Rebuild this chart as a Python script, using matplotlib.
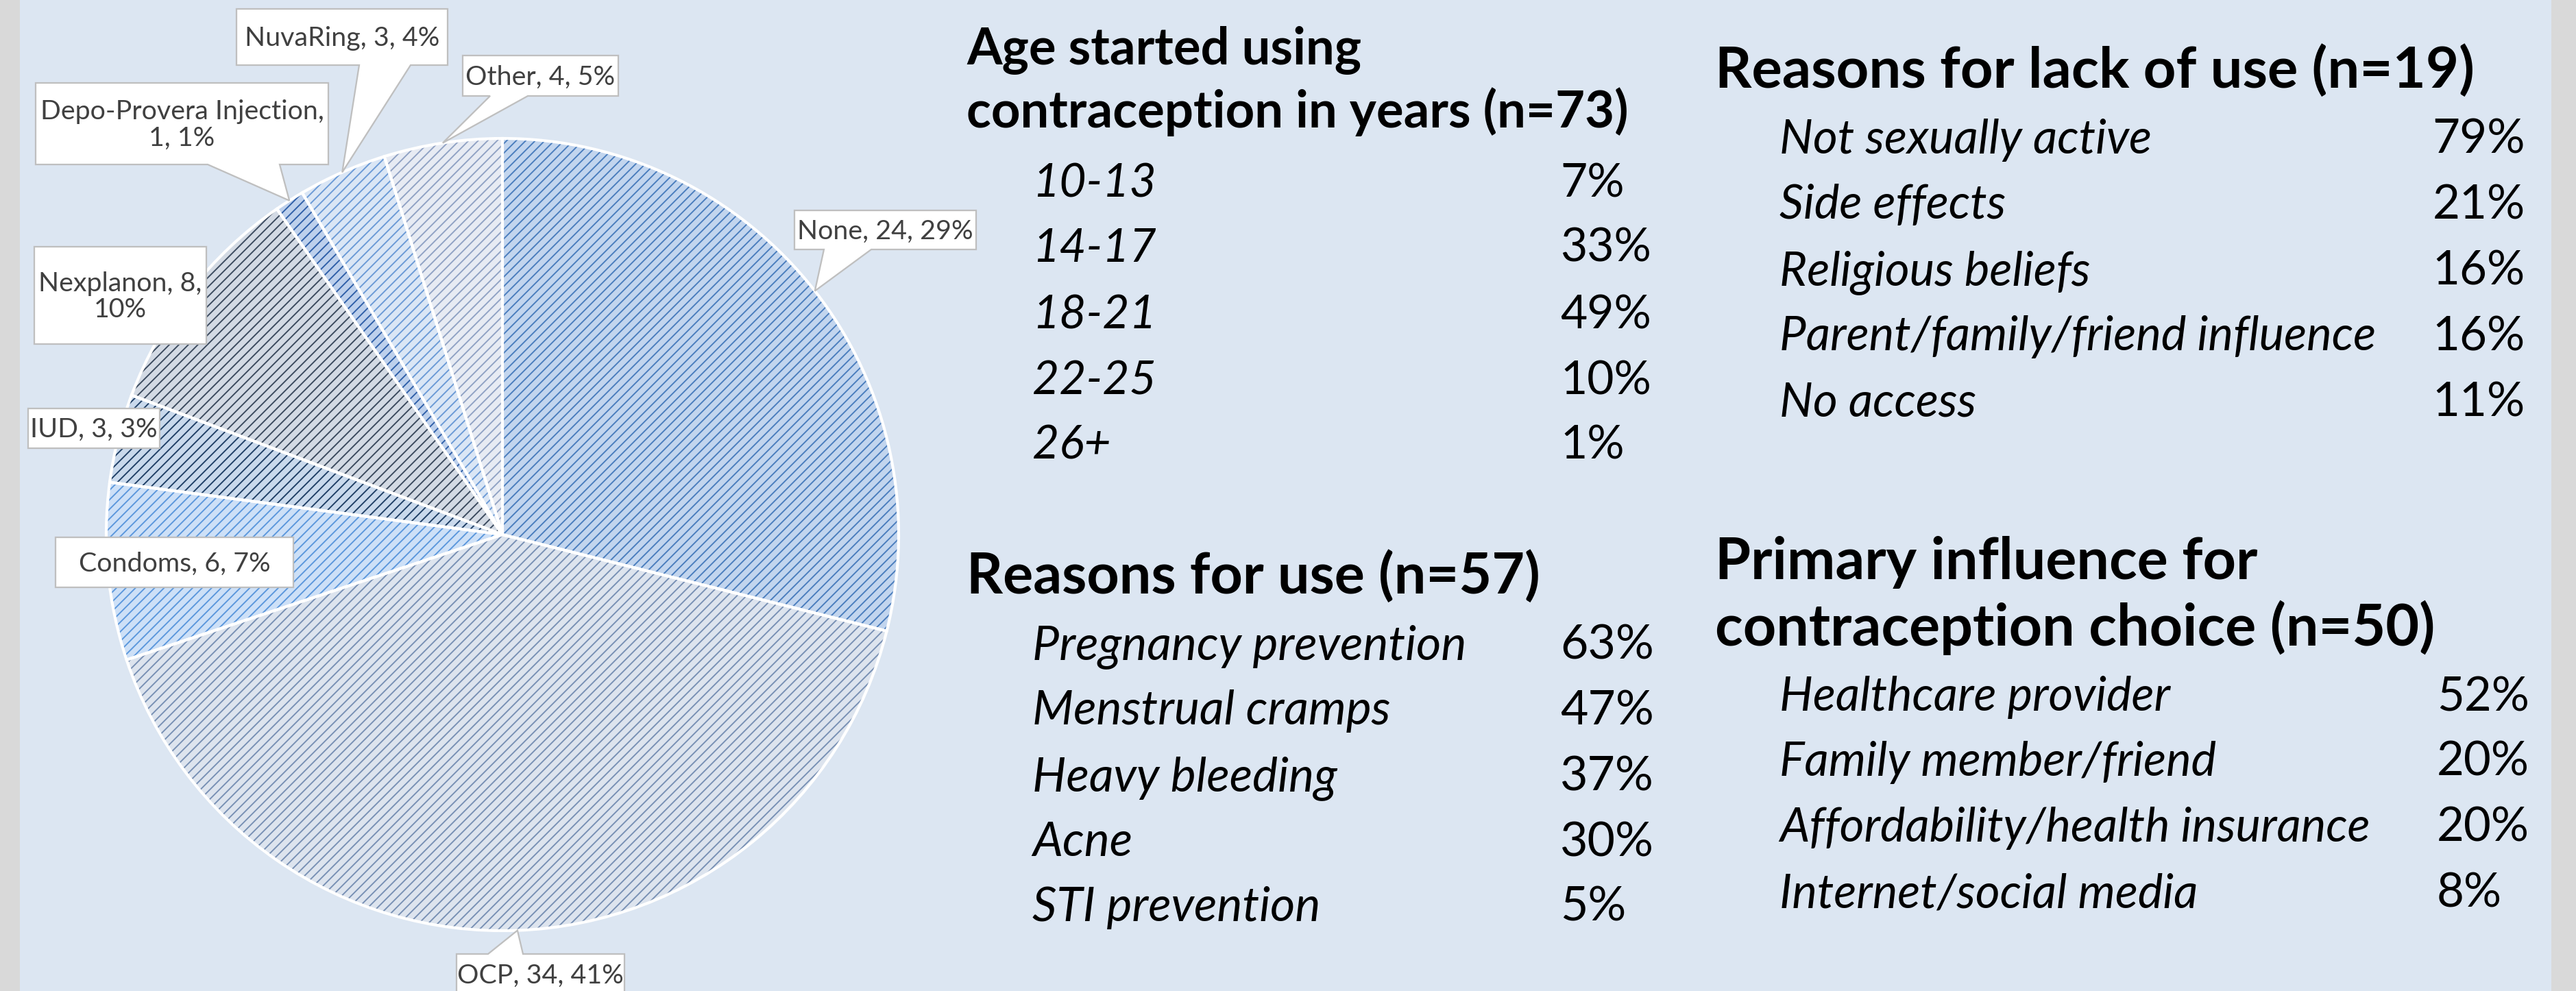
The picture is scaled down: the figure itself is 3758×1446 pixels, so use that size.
import matplotlib
matplotlib.use("Agg")
import matplotlib.pyplot as plt
from matplotlib.patches import Rectangle, Polygon
import numpy as np

# ---------------- data ----------------
methods = ["None", "OCP", "Condoms", "IUD", "Nexplanon",
           "Depo-Provera Injection", "NuvaRing", "Other"]
method_counts = [24, 34, 6, 3, 8, 1, 3, 4]
method_pct = ["29%", "41%", "7%", "3%", "10%", "1%", "4%", "5%"]

age_title = ["Age started using", "contraception in years (n=73)"]
age_groups = ["10-13", "14-17", "18-21", "22-25", "26+"]
age_pct = ["7%", "33%", "49%", "10%", "1%"]

use_title = ["Reasons for use (n=57)"]
use_reasons = ["Pregnancy prevention", "Menstrual cramps", "Heavy bleeding",
               "Acne", "STI prevention"]
use_pct = ["63%", "47%", "37%", "30%", "5%"]

nonuse_title = ["Reasons for lack of use (n=19)"]
nonuse_reasons = ["Not sexually active", "Side effects", "Religious beliefs",
                  "Parent/family/friend influence", "No access"]
nonuse_pct = ["79%", "21%", "16%", "16%", "11%"]

influence_title = ["Primary influence for", "contraception choice (n=50)"]
influence_sources = ["Healthcare provider", "Family member/friend",
                     "Affordability/health insurance", "Internet/social media"]
influence_pct = ["52%", "20%", "20%", "8%"]

# ---------------- style ----------------
W, H = 3758, 1446
DPI = 125
BG = "#dce6f2"
FONT = "Lato"
base_colors = ["#c2d5ee", "#dde4ee", "#cde0f7", "#c9d9ec",
               "#d3dae4", "#bdd0ec", "#dae6f5", "#e7ebf3"]
hatch_colors = ["#4a7dbd", "#7890b4", "#5b97dc", "#1f3f66",
                "#3b4a5e", "#2f5fa8", "#6b9ad6", "#90a2c4"]

plt.rcParams["hatch.linewidth"] = 1.1
plt.rcParams["font.family"] = [FONT, "DejaVu Sans"]

fig = plt.figure(figsize=(W / DPI, H / DPI), dpi=DPI)
fig.patch.set_facecolor(BG)
ax = fig.add_axes([0, 0, 1, 1])
ax.set_facecolor(BG)

CX, CY, R = 733, 780, 578
common = dict(radius=R, center=(CX, CY), startangle=-90, counterclock=True,
              frame=True)
wedges, _ = ax.pie(method_counts, colors=base_colors,
                   wedgeprops=dict(linewidth=0), **common)
hw, _ = ax.pie(method_counts, colors=["none"] * len(method_counts),
               hatch="///", wedgeprops=dict(linewidth=0), **common)
for w, c in zip(hw, hatch_colors):
    w.set_edgecolor(c)
    w.set_linewidth(0)
ow, _ = ax.pie(method_counts, colors=["none"] * len(method_counts),
               wedgeprops=dict(edgecolor="white", linewidth=2.4), **common)

ax.set_xlim(0, W)
ax.set_ylim(H, 0)
ax.set_aspect("auto")
ax.axis("off")

# grey side strips
ax.add_patch(Rectangle((0, 0), 29, H, facecolor="#d9d9d9", edgecolor="none", zorder=0.5))
ax.add_patch(Rectangle((3722, 0), W - 3722, H, facecolor="#d9d9d9", edgecolor="none", zorder=0.5))

renderer = fig.canvas.get_renderer()


def fit_size(s, target_w, **kw):
    t = ax.text(0, 0, s, fontsize=100, **kw)
    w = t.get_window_extent(renderer).width
    t.remove()
    return 100.0 * target_w / w


# ---------------- callout labels ----------------
# box (x0, y0, x1, y1) in pixel coords, line break after n items, pointer side/base
layout = [
    dict(box=(1159, 307, 1424, 364), brk=None, side="bottom", base=(1202, 1271)),
    dict(box=(666, 1392, 911, 1452), brk=None, side="top", base=(712, 763)),
    dict(box=(81, 784, 428, 857), brk=None, side=None, base=None),
    dict(box=(41, 596, 233, 654), brk=None, side=None, base=None),
    dict(box=(50, 360, 301, 502), brk=2, side=None, base=None),
    dict(box=(52, 121, 479, 240), brk=1, side="bottom", base=(303, 408)),
    dict(box=(345, 13, 653, 95), brk=None, side="bottom", base=(524, 599)),
    dict(box=(675, 81, 902, 140), brk=None, side="bottom", base=(715, 770)),
]

label_fs = fit_size("None, 24, 29%", 256, family=FONT)

for w, m, c, p, lay in zip(wedges, methods, method_counts, method_pct, layout):
    parts = [m, str(c), p]
    if lay["brk"]:
        txt = ", ".join(parts[:lay["brk"]]) + ",\n" + ", ".join(parts[lay["brk"]:])
    else:
        txt = ", ".join(parts)
    x0, y0, x1, y1 = lay["box"]
    verts = [(x0, y0)]
    if lay["side"] is not None:
        mid = np.deg2rad((w.theta1 + w.theta2) / 2.0)
        tip = (CX + R * np.cos(mid), CY + R * np.sin(mid))
        b0, b1 = lay["base"]
        if lay["side"] == "top":
            verts += [(b0, y0), tip, (b1, y0), (x1, y0), (x1, y1), (x0, y1)]
        else:
            verts += [(x1, y0), (x1, y1), (b1, y1), tip, (b0, y1), (x0, y1)]
    else:
        verts += [(x1, y0), (x1, y1), (x0, y1)]
    ax.add_patch(Polygon(verts, closed=True, facecolor="white",
                         edgecolor="#bfbfbf", linewidth=1.3, zorder=5))
    ax.text((x0 + x1) / 2, (y0 + y1) / 2 + 2, txt, ha="center", va="center",
            fontsize=label_fs, color="#404040", family=FONT,
            linespacing=1.1, zorder=6)


# ---------------- text panels ----------------
def panel(title, title_y, title_ref, title_w, items, pcts, item_y, item_ref, item_w,
          hx, ix, px, pct_align):
    tfs = fit_size(title_ref, title_w, family=FONT, weight="bold")
    for s, y in zip(title, title_y):
        ax.text(hx, y, s, fontsize=tfs, weight="bold", family=FONT,
                va="baseline", ha="left", color="black", zorder=6)
    ifs = fit_size(item_ref, item_w, family=FONT, style="italic")
    for s, p, y in zip(items, pcts, item_y):
        ax.text(ix, y, s, fontsize=ifs, style="italic", family=FONT,
                va="baseline", ha="left", color="black", zorder=6)
        ax.text(px, y, p, fontsize=ifs, family=FONT,
                va="baseline", ha=pct_align, color="black", zorder=6)


panel(age_title, [94, 186], age_title[1], 966,
      age_groups, age_pct, [287, 382, 479, 575, 670], "22-25", 181,
      1410, 1506, 2276, "left")
panel(use_title, [866], use_title[0], 837,
      use_reasons, use_pct, [962, 1057, 1154, 1249, 1344], "Pregnancy prevention", 633,
      1410, 1506, 2276, "left")
panel(nonuse_title, [128], nonuse_title[0], 1107,
      nonuse_reasons, nonuse_pct, [224, 319, 416, 511, 607],
      "Parent/family/friend influence", 870,
      2502, 2596, 3684, "right")
panel(influence_title, [845, 942], influence_title[1], 1052,
      influence_sources, influence_pct, [1037, 1132, 1228, 1324],
      "Affordability/health insurance", 862,
      2502, 2596, 3555, "left")

fig.savefig("out.png", dpi=DPI, facecolor=BG)
